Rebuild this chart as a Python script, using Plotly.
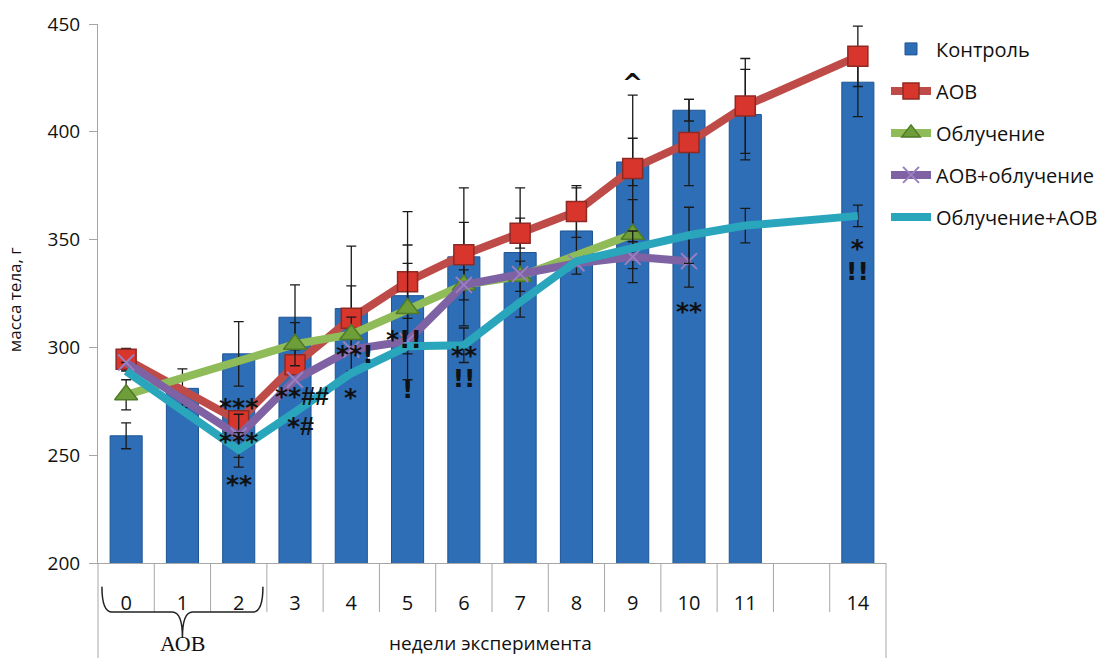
import plotly.graph_objects as go

# week categories on the x axis (position 12 is an empty slot)
week_labels = ["0", "1", "2", "3", "4", "5", "6", "7", "8", "9", "10", "11", "", "14"]
week_pos = list(range(len(week_labels)))

# Контроль (bars)
control_pos = [0, 1, 2, 3, 4, 5, 6, 7, 8, 9, 10, 11, 13]
control_val = [259, 281, 297, 314, 318, 324, 342, 344, 354, 386, 410, 408, 423]
control_err = [6, 9, 15, 15, 29, 39, 32, 30, 20, 11, 5, 21, 16]

# АОВ
aob_pos = [0, 2, 3, 4, 5, 6, 7, 8, 9, 10, 11, 13]
aob_val = [294.5, 266, 292, 313.5, 330.5, 343, 353, 363, 383, 395, 412, 435]
aob_err = [5, 4, 7, 15, 17, 15, 7, 12, 34, 20, 22, 14]

# Облучение
irr_pos = [0, 3, 4, 5, 6, 7, 9]
irr_val = [278, 301.5, 306, 318, 329, 333, 352.5]
irr_err = [7, 10, 8, 21, 7, 7, 16]

# АОВ+облучение
aob_irr_pos = [0, 2, 3, 4, 5, 6, 7, 8, 9, 10]
aob_irr_val = [293, 259, 285, 299, 303, 329, 334, 339, 342, 340]
aob_irr_err = [None, 10, None, None, None, None, None, None, 12, 12]

# Облучение+АОВ
irr_aob_pos = [0, 2, 3, 4, 5, 6, 7, 8, 9, 10, 11, 13]
irr_aob_val = [289, 252.5, 270, 288, 300.5, 301, 321, 340, 346, 352, 356.5, 361]
irr_aob_err = [None, 8, None, None, None, 8, None, None, None, 13, 8, 5]

# significance labels: (text, week position, level on the mass scale)
# a "\n" stacks two marks in one label
sig_labels = [
    ("***", 2, 274.5), ("***", 2, 258.5), ("**", 2, 238.5),
    ("**##", 3.13, 277.5), ("*#", 3.1, 263.5),
    ("**!", 4.07, 297), ("*", 3.98, 279),
    ("*!!", 4.94, 304), ("!", 5.0, 280.5),
    ("**\n!!", 6, 291.0),
    ("^", 9, 423),
    ("**", 10, 319),
    ("*\n!!", 13, 340.5),
]

FONT = "Open Sans"
err_style = dict(type="data", color="#1a1a1a", thickness=1.3, width=5, visible=True)


def sig_markup(txt):
    # asterisks and exclamation marks in DejaVu Sans, hashes in a narrower face
    lines = []
    for line in txt.split("\n"):
        parts = []
        for ch in line:
            if ch == "#":
                parts.append('<span style="font-family:Liberation Sans">#</span>')
            else:
                parts.append(ch)
        lines.append('<span style="font-size:25px"><b>' + "".join(parts) + "</b></span>")
    return "<br>".join(lines)


fig = go.Figure()

fig.add_trace(go.Bar(
    x=control_pos, y=control_val, name="Контроль", width=0.57,
    marker=dict(color="#2E6EB6", line=dict(color="#1E5494", width=1)),
    error_y=dict(array=control_err, **err_style),
    legendgroup="g1",
))

fig.add_trace(go.Scatter(
    x=aob_pos, y=aob_val, name="АОВ", mode="lines+markers",
    line=dict(color="#BE4B48", width=8),
    marker=dict(symbol="square", size=20, color="#D8352C",
                line=dict(color="#8E2A24", width=1.5)),
    error_y=dict(array=aob_err, **err_style),
    legendgroup="g2",
))

fig.add_trace(go.Scatter(
    x=irr_pos, y=irr_val, name="Облучение", mode="lines+markers",
    line=dict(color="#8FBB58", width=8),
    marker=dict(symbol="triangle-up", size=20, color="#6E9E3A",
                line=dict(color="#4F7A27", width=1.5)),
    error_y=dict(array=irr_err, **err_style),
    legendgroup="g3",
))

fig.add_trace(go.Scatter(
    x=aob_irr_pos, y=aob_irr_val, name="АОВ+облучение", mode="lines+markers",
    line=dict(color="#7F62A3", width=8),
    marker=dict(symbol="x-thin", size=16, color="#7F62A3",
                line=dict(color="#9A7FC0", width=2)),
    error_y=dict(array=aob_irr_err, **err_style),
    legendgroup="g4",
))

fig.add_trace(go.Scatter(
    x=irr_aob_pos, y=irr_aob_val, name="Облучение+АОВ", mode="lines",
    line=dict(color="#29A5BC", width=8),
    error_y=dict(array=irr_aob_err, **err_style),
    legendgroup="g5",
))

# significance marks; single-line boxes are kept tight around the glyphs
for txt, xp, yv in sig_labels:
    stacked = "\n" in txt
    only_stars = set(txt) == {"*"}
    opts = dict(x=xp, y=yv, text=sig_markup(txt), showarrow=False,
                font=dict(family="DejaVu Sans", size=18, color="#111"),
                xanchor="center", yanchor="middle", valign="middle")
    if not stacked:
        opts.update(height=20, yshift=-4.5 if only_stars else 0)
    fig.add_annotation(**opts)

# table-style category grid under the x axis
shapes = []
for k in range(1, len(week_labels)):
    shapes.append(dict(type="line", xref="x", yref="paper",
                       x0=k - 0.5, x1=k - 0.5, y0=0, y1=-0.091,
                       line=dict(color="#A6A6A6", width=1)))
for xp in (0, 1):
    shapes.append(dict(type="line", xref="paper", yref="paper",
                       x0=xp, x1=xp, y0=0, y1=-0.2,
                       line=dict(color="#A6A6A6", width=1)))

# curly brace grouping weeks 0-2
brace = ("M -0.43,-0.044 Q -0.43,-0.091 -0.25,-0.091 L 0.82,-0.091 "
         "Q 1.0,-0.091 1.0,-0.139 Q 1.0,-0.091 1.18,-0.091 "
         "L 2.25,-0.091 Q 2.43,-0.091 2.43,-0.044")
shapes.append(dict(type="path", xref="x", yref="paper", path=brace,
                   line=dict(color="#222", width=1.5)))

fig.add_annotation(x=1.0, xref="x", y=-0.1735, yref="paper", text="АОВ",
                   showarrow=False, font=dict(family="Liberation Serif", size=22, color="#111"),
                   xanchor="center", yanchor="bottom", height=24, valign="middle")
fig.add_annotation(x=0.4975, xref="paper", y=-0.148, yref="paper",
                   text="недели эксперимента", showarrow=False,
                   font=dict(family=FONT, size=19, color="#111"),
                   xanchor="center", yanchor="middle")
fig.add_annotation(x=-0.105, xref="paper", y=0.488, yref="paper",
                   text="масса тела, г", textangle=-90, showarrow=False,
                   font=dict(family=FONT, size=17, color="#111"),
                   xanchor="center", yanchor="middle")

fig.update_layout(
    width=1116, height=658,
    margin=dict(l=98, r=230, t=24, b=95),
    paper_bgcolor="white", plot_bgcolor="white",
    font=dict(family=FONT, size=19, color="#111"),
    showlegend=True,
    legend=dict(x=1.0, xanchor="left", y=0.99, yanchor="top",
                font=dict(family=FONT, size=20, color="#111"),
                itemwidth=40, tracegroupgap=13, bgcolor="rgba(0,0,0,0)"),
    shapes=shapes,
)

fig.update_xaxes(
    range=[-0.5, 13.5], tickmode="array", tickvals=week_pos, ticktext=week_labels,
    showline=True, linecolor="#A6A6A6", linewidth=1, showgrid=False, zeroline=False,
    ticks="", ticklabelstandoff=22, tickfont=dict(family=FONT, size=20, color="#111"),
)
fig.update_yaxes(
    range=[200, 450], tickvals=[200, 250, 300, 350, 400, 450],
    showline=True, linecolor="#A6A6A6", linewidth=1, showgrid=False, zeroline=False,
    ticks="outside", ticklen=8, tickcolor="#A6A6A6", ticklabelstandoff=5,
    tickfont=dict(family=FONT, size=19, color="#111"),
)

fig.write_html("out.html")
